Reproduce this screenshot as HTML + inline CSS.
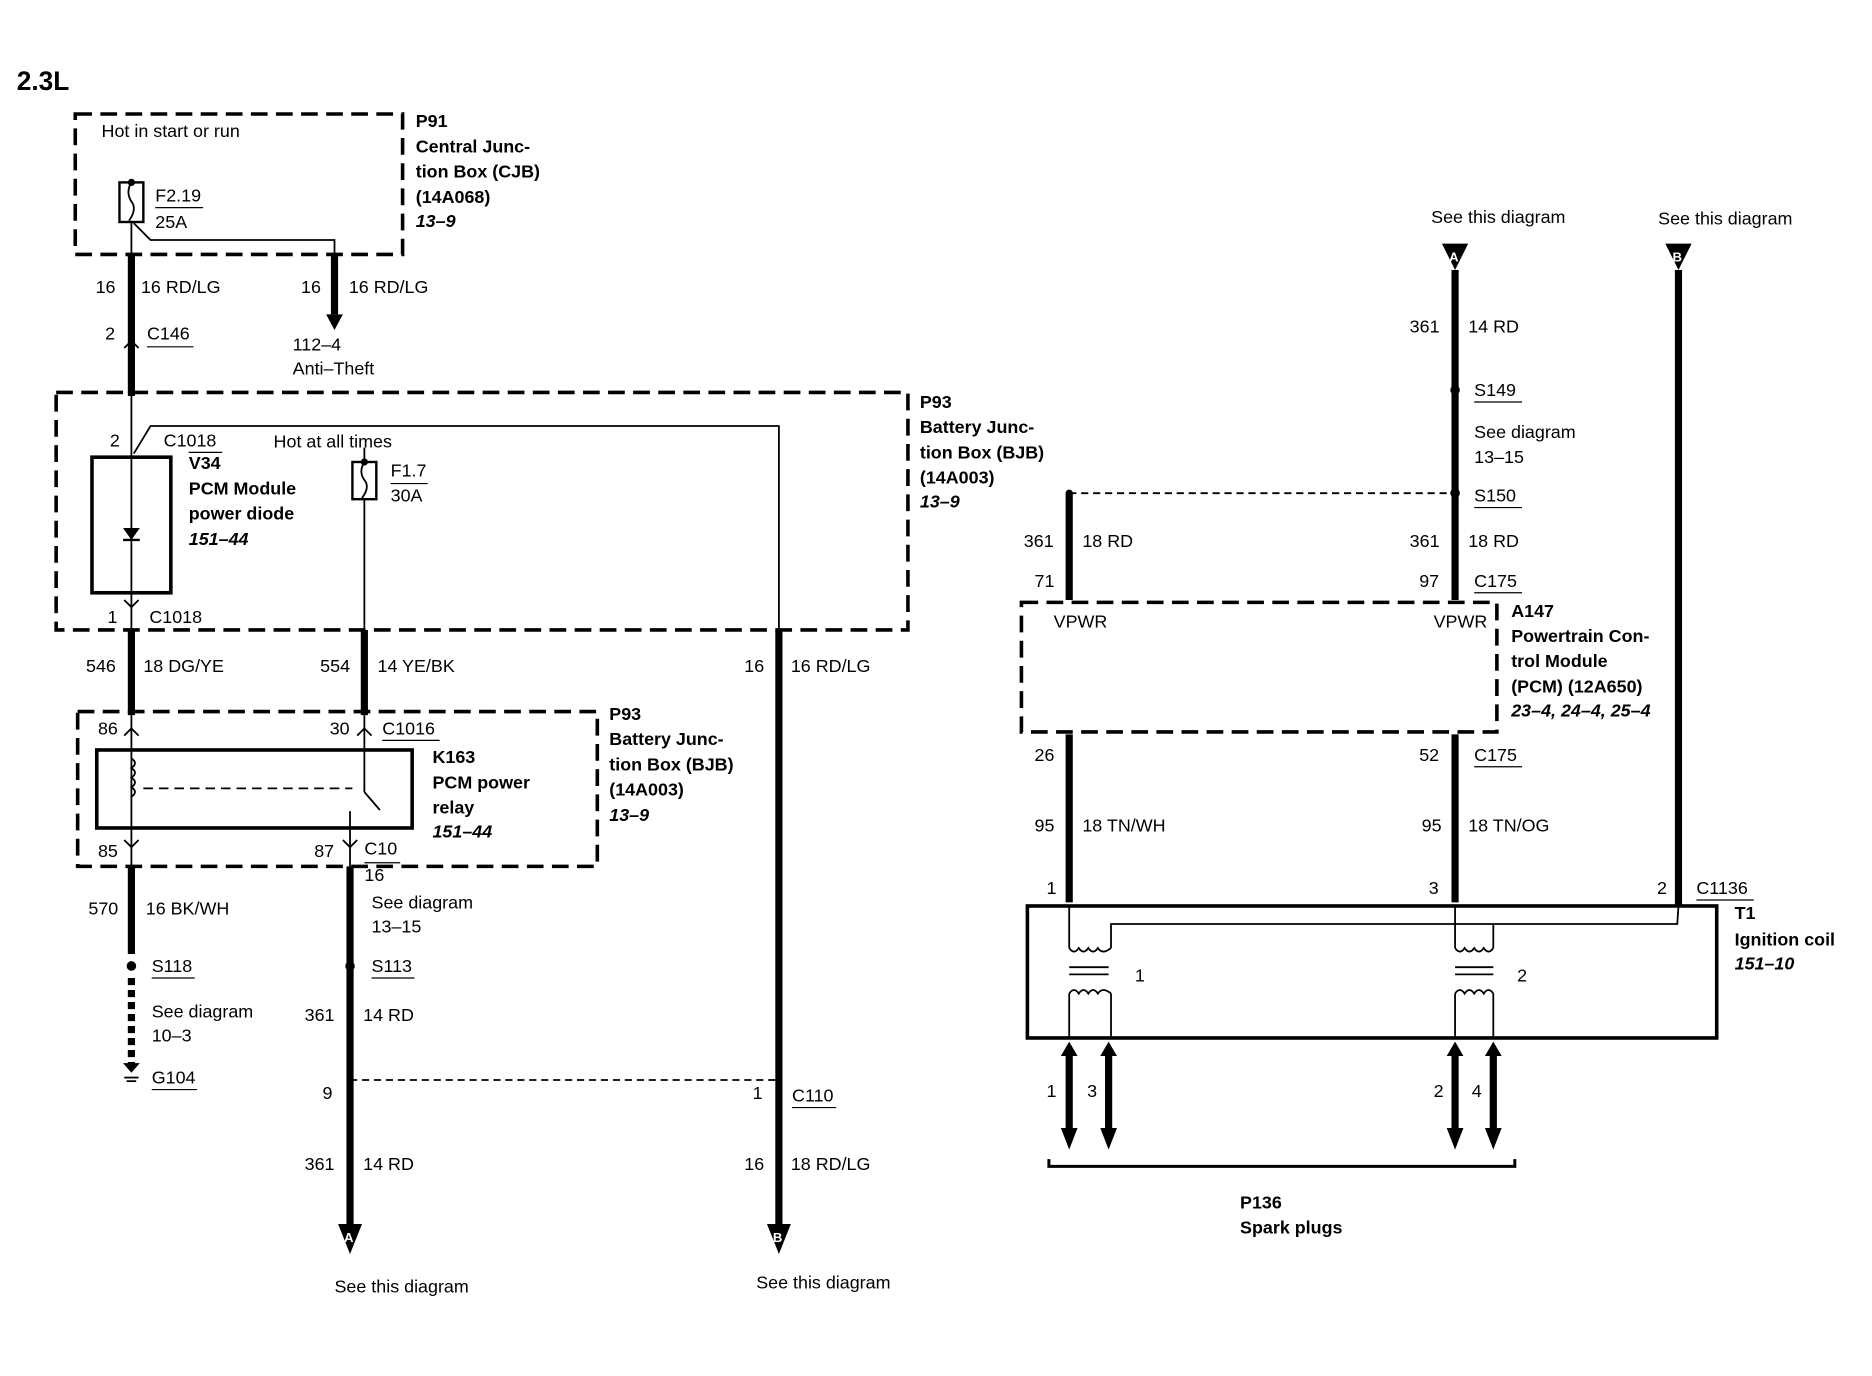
<!DOCTYPE html>
<html><head><meta charset="utf-8"><style>
html,body{margin:0;padding:0;background:#fff;}
svg{display:block;}
text{font-family:"Liberation Sans",sans-serif;font-size:15px;fill:#000;}
.b{font-weight:bold;}
.i{font-style:italic;font-weight:bold;}
</style></head><body>
<svg width="1872" height="1376" viewBox="0 0 1567 1146.7" preserveAspectRatio="none" xmlns="http://www.w3.org/2000/svg">
<g fill="none" stroke="#000">
<g stroke-width="3" stroke-dasharray="14,7">
<rect x="63" y="95" width="274" height="117"/>
<rect x="47" y="327" width="713" height="198"/>
<rect x="65" y="593" width="435" height="129"/>
<rect x="855" y="502" width="398" height="108"/>
</g>
<rect x="77" y="381" width="66" height="113" stroke-width="3"/>
<rect x="81" y="625" width="264" height="65" stroke-width="3"/>
<rect x="860" y="755" width="577" height="110" stroke-width="3"/>
<g stroke-width="6">
<line x1="110" y1="212" x2="110" y2="330"/>
<line x1="280" y1="212" x2="280" y2="262"/>
<line x1="110" y1="525" x2="110" y2="596"/>
<line x1="305" y1="525" x2="305" y2="596"/>
<line x1="652" y1="525" x2="652" y2="1020"/>
<line x1="110" y1="722" x2="110" y2="795"/>
<line x1="110" y1="815" x2="110" y2="888" stroke-dasharray="6,4"/>
<line x1="293" y1="722" x2="293" y2="1020"/>
<line x1="1218" y1="225" x2="1218" y2="500"/>
<line x1="1405" y1="225" x2="1405" y2="755"/>
<line x1="895" y1="411" x2="895" y2="500"/>
<line x1="895" y1="612" x2="895" y2="752"/>
<line x1="1218" y1="612" x2="1218" y2="752"/>
<line x1="895" y1="880" x2="895" y2="945"/>
<line x1="928" y1="880" x2="928" y2="945"/>
<line x1="1218" y1="880" x2="1218" y2="945"/>
<line x1="1250" y1="880" x2="1250" y2="945"/>
</g>
<g stroke-width="1.5">
<line x1="110" y1="185" x2="110" y2="212"/>
<polyline points="112,186 126,200 280,200 280,212"/>
<line x1="110" y1="330" x2="110" y2="525"/>
<polyline points="112,378 126,355 652,355 652,525"/>
<line x1="305" y1="416" x2="305" y2="525"/>
<line x1="305" y1="373" x2="305" y2="385"/>
<line x1="110" y1="596" x2="110" y2="722"/>
<polyline points="305,596 305,660"/>
<line x1="293" y1="676" x2="293" y2="722"/>
<line x1="120" y1="657" x2="295" y2="657" stroke-dasharray="8,5"/>
<line x1="293" y1="900" x2="652" y2="900" stroke-dasharray="6,4"/>
<line x1="895" y1="411" x2="1218" y2="411" stroke-dasharray="6,4"/>
<polyline points="1405,755 1404,770 930,770 930,790"/>
<line x1="895" y1="755" x2="895" y2="790"/>
<line x1="1218" y1="755" x2="1218" y2="790"/>
<line x1="1250" y1="770" x2="1250" y2="790"/>
<line x1="895" y1="828" x2="895" y2="865"/>
<line x1="930" y1="828" x2="930" y2="865"/>
<line x1="1218" y1="828" x2="1218" y2="865"/>
<line x1="1250" y1="828" x2="1250" y2="865"/>
<line x1="895" y1="806" x2="928" y2="806"/><line x1="895" y1="812" x2="928" y2="812"/>
<line x1="1218" y1="806" x2="1250" y2="806"/><line x1="1218" y1="812" x2="1250" y2="812"/>
<path d="M895,790 q4,6 8,0 q4,6 8,0 q4,6 8,0 q4,6 11,0"/>
<path d="M1218,790 q4,6 8,0 q4,6 8,0 q4,6 8,0 q4,6 8,0"/>
<path d="M895,828 q4,-6 8,0 q4,-6 8,0 q4,-6 8,0 q4,-6 11,0"/>
<path d="M1218,828 q4,-6 8,0 q4,-6 8,0 q4,-6 8,0 q4,-6 8,0"/>
<path d="M110,632 q6,4 0,8 q6,4 0,8 q6,4 0,8 q6,4 0,8"/>
<line x1="305" y1="660" x2="318" y2="675"/>
<path d="M878,966 v6 h390 v-6" stroke-width="2.5"/>
</g>
<rect x="100" y="152" width="20" height="33" stroke-width="2"/>
<path d="M110,152 q-5,8 0,16 q5,6 -2,16" stroke-width="1.5"/>
<rect x="295" y="385" width="20" height="31" stroke-width="2"/>
<path d="M305,385 q-5,8 0,15 q5,6 -2,15" stroke-width="1.5"/>
<g stroke-width="1">
<line x1="130" y1="173" x2="170" y2="173"/>
<line x1="123" y1="289" x2="162" y2="289"/>
<line x1="327" y1="403" x2="358" y2="403"/>
<line x1="158" y1="377" x2="186" y2="377"/>
<line x1="320" y1="617" x2="368" y2="617"/>
<line x1="305" y1="719" x2="335" y2="719"/>
<line x1="127" y1="815" x2="163" y2="815"/>
<line x1="311" y1="815" x2="347" y2="815"/>
<line x1="127" y1="908" x2="165" y2="908"/>
<line x1="663" y1="923" x2="700" y2="923"/>
<line x1="1234" y1="335" x2="1274" y2="335"/>
<line x1="1234" y1="423" x2="1274" y2="423"/>
<line x1="1234" y1="494" x2="1274" y2="494"/>
<line x1="1234" y1="639" x2="1274" y2="639"/>
<line x1="1420" y1="750" x2="1468" y2="750"/>
</g>
</g>
<g fill="#000">
<circle cx="110" cy="152" r="3"/><circle cx="305" cy="385" r="3"/>
<circle cx="110" cy="805" r="4"/><circle cx="293" cy="805" r="4"/>
<circle cx="1218" cy="325" r="4"/><circle cx="1218" cy="411" r="4"/><circle cx="895" cy="411" r="3"/>
<circle cx="293" cy="900" r="3"/>
<polygon points="273,262 287,262 280,275"/>
<polygon points="103,440 117,440 110,450"/>
<line x1="103" y1="450" x2="117" y2="450" stroke="#000" stroke-width="2"/>
<polygon points="283,1020 303,1020 293,1045"/><polygon points="642,1020 662,1020 652,1045"/>
<polygon points="1207,203 1229,203 1218,225"/><polygon points="1394,203 1416,203 1405,225"/>
<polygon points="888,880 902,880 895,868"/><polygon points="921,880 935,880 928,868"/>
<polygon points="1211,880 1225,880 1218,868"/><polygon points="1243,880 1257,880 1250,868"/>
<polygon points="888,940 902,940 895,958"/><polygon points="921,940 935,940 928,958"/>
<polygon points="1211,940 1225,940 1218,958"/><polygon points="1243,940 1257,940 1250,958"/>
<polygon points="103,886 117,886 110,894"/>
</g>
<g stroke="#000" stroke-width="1.5" fill="none">
<path d="M104,290 l6,-6 l6,6"/><path d="M104,500 l6,6 l6,-6"/>
<path d="M104,613 l6,-6 l6,6"/><path d="M299,613 l6,-6 l6,6"/>
<path d="M104,700 l6,6 l6,-6"/><path d="M287,700 l6,6 l6,-6"/>
<line x1="104" y1="898" x2="116" y2="898"/><line x1="106" y1="901" x2="114" y2="901"/>
</g>
<text x="1213" y="218" style="font-size:11px;fill:#fff" class="b">A</text><text x="1400" y="218" style="font-size:11px;fill:#fff" class="b">B</text>
<text x="288" y="1035" style="font-size:11px;fill:#fff" class="b">A</text><text x="647" y="1035" style="font-size:11px;fill:#fff" class="b">B</text>
<text x="14" y="75" class="b" style="font-size:22px">2.3L</text>
<text x="85" y="114">Hot in start or run</text>
<text x="130" y="168">F2.19</text><text x="130" y="190">25A</text>
<text x="348" y="106" class="b">P91</text><text x="348" y="127" class="b">Central Junc-</text><text x="348" y="148" class="b">tion Box (CJB)</text><text x="348" y="169" class="b">(14A068)</text><text x="348" y="189" class="i">13–9</text>
<text x="80" y="244">16</text><text x="118" y="244">16 RD/LG</text><text x="252" y="244">16</text><text x="292" y="244">16 RD/LG</text>
<text x="88" y="283">2</text><text x="123" y="283">C146</text>
<text x="245" y="292">112–4</text><text x="245" y="312">Anti–Theft</text>
<text x="770" y="340" class="b">P93</text><text x="770" y="361" class="b">Battery Junc-</text><text x="770" y="382" class="b">tion Box (BJB)</text><text x="770" y="403" class="b">(14A003)</text><text x="770" y="423" class="i">13–9</text>
<text x="92" y="372">2</text><text x="137" y="372">C1018</text><text x="229" y="373">Hot at all times</text>
<text x="158" y="391" class="b">V34</text><text x="158" y="412" class="b">PCM Module</text><text x="158" y="433" class="b">power diode</text><text x="158" y="454" class="i">151–44</text>
<text x="327" y="397">F1.7</text><text x="327" y="418">30A</text>
<text x="90" y="519">1</text><text x="125" y="519">C1018</text>
<text x="72" y="560">546</text><text x="120" y="560">18 DG/YE</text><text x="268" y="560">554</text><text x="316" y="560">14 YE/BK</text>
<text x="623" y="560">16</text><text x="662" y="560">16 RD/LG</text>
<text x="82" y="612">86</text><text x="276" y="612">30</text><text x="320" y="612">C1016</text>
<text x="362" y="636" class="b">K163</text><text x="362" y="657" class="b">PCM power</text><text x="362" y="678" class="b">relay</text><text x="362" y="698" class="i">151–44</text>
<text x="510" y="600" class="b">P93</text><text x="510" y="621" class="b">Battery Junc-</text><text x="510" y="642" class="b">tion Box (BJB)</text><text x="510" y="663" class="b">(14A003)</text><text x="510" y="684" class="i">13–9</text>
<text x="82" y="714">85</text><text x="263" y="714">87</text><text x="305" y="712">C10</text>
<text x="305" y="734">16</text><text x="311" y="757">See diagram</text><text x="311" y="777">13–15</text>
<text x="74" y="762">570</text><text x="122" y="762">16 BK/WH</text>
<text x="127" y="810">S118</text><text x="311" y="810">S113</text>
<text x="127" y="848">See diagram</text><text x="127" y="868">10–3</text><text x="127" y="903">G104</text>
<text x="255" y="851">361</text><text x="304" y="851">14 RD</text>
<text x="270" y="916">9</text><text x="630" y="916">1</text><text x="663" y="918">C110</text>
<text x="255" y="975">361</text><text x="304" y="975">14 RD</text><text x="623" y="975">16</text><text x="662" y="975">18 RD/LG</text>
<text x="280" y="1077">See this diagram</text><text x="633" y="1074">See this diagram</text>
<text x="1198" y="186">See this diagram</text><text x="1388" y="187">See this diagram</text>
<text x="1180" y="277">361</text><text x="1229" y="277">14 RD</text>
<text x="1234" y="330">S149</text><text x="1234" y="365">See diagram</text><text x="1234" y="386">13–15</text><text x="1234" y="418">S150</text>
<text x="857" y="456">361</text><text x="906" y="456">18 RD</text><text x="1180" y="456">361</text><text x="1229" y="456">18 RD</text>
<text x="866" y="489">71</text><text x="1188" y="489">97</text><text x="1234" y="489">C175</text>
<text x="882" y="523">VPWR</text><text x="1200" y="523">VPWR</text>
<text x="1265" y="514" class="b">A147</text><text x="1265" y="535" class="b">Powertrain Con-</text><text x="1265" y="556" class="b">trol Module</text><text x="1265" y="577" class="b">(PCM) (12A650)</text><text x="1265" y="597" class="i">23–4, 24–4, 25–4</text>
<text x="866" y="634">26</text><text x="1188" y="634">52</text><text x="1234" y="634">C175</text>
<text x="866" y="693">95</text><text x="906" y="693">18 TN/WH</text><text x="1190" y="693">95</text><text x="1229" y="693">18 TN/OG</text>
<text x="876" y="745">1</text><text x="1196" y="745">3</text><text x="1387" y="745">2</text><text x="1420" y="745">C1136</text>
<text x="1452" y="766" class="b">T1</text><text x="1452" y="788" class="b">Ignition coil</text><text x="1452" y="808" class="i">151–10</text>
<text x="950" y="818">1</text><text x="1270" y="818">2</text>
<text x="876" y="914">1</text><text x="910" y="914">3</text><text x="1200" y="914">2</text><text x="1232" y="914">4</text>
<text x="1038" y="1007" class="b">P136</text><text x="1038" y="1028" class="b">Spark plugs</text>
</svg>
</body></html>
